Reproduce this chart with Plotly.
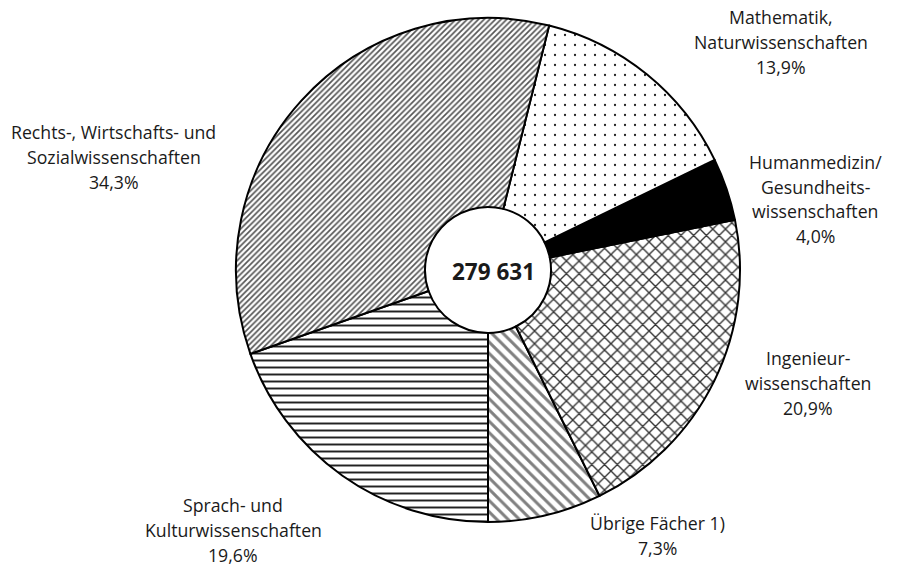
import plotly.graph_objects as go

# ---- data (counter-clockwise from 6 o'clock, first slice ends there) ----
categories = [
    "Sprach- und Kulturwissenschaften",
    "Übrige Fächer 1)",
    "Ingenieurwissenschaften",
    "Humanmedizin/Gesundheitswissenschaften",
    "Mathematik, Naturwissenschaften",
    "Rechts-, Wirtschafts- und Sozialwissenschaften",
]
shares = [19.6, 7.3, 20.9, 4.0, 13.9, 34.3]
label_lines = [
    ["Sprach- und", "Kulturwissenschaften"],
    ["Übrige Fächer 1)"],
    ["Ingenieur-", "wissenschaften"],
    ["Humanmedizin/", "Gesundheits-", "wissenschaften"],
    ["Mathematik,", "Naturwissenschaften"],
    ["Rechts-, Wirtschafts- und", "Sozialwissenschaften"],
]
total_label = "279 631"

# ---- styles ----
W, H = 901, 569
CX, CY, R = 488, 270, 252
shapes_ = ["-", "\\", "x", "", ".", "/"]
sizes_ = [7, 8, 9, 8, 10, 4]
solid_ = [0.28, 0.38, 0.28, 0.5, 0.04, 0.42]
fg_ = ["#222222", "#808080", "#333333", "black", "#222222", "#555555"]
colors_ = ["white", "white", "white", "black", "white", "white"]
# block centre (pixels) for each label
label_pos = [(233, 530), (657, 535), (808, 383), (815, 199), (781, 42), (114, 157)]
LINE_H = 25
FONT = "Open Sans"
FSIZE = 17.7

fig = go.Figure()
fig.add_trace(go.Pie(
    labels=categories,
    values=shares,
    sort=False,
    direction="counterclockwise",
    rotation=180,
    hole=0.25,
    textinfo="none",
    hoverinfo="label+percent",
    marker=dict(
        colors=colors_,
        line=dict(color="black", width=2),
        pattern=dict(shape=shapes_, size=sizes_, solidity=solid_,
                     fgcolor=fg_, bgcolor=colors_, fillmode="replace"),
    ),
    domain=dict(x=[(CX - R) / W, (CX + R) / W], y=[1 - (CY + R) / H, 1 - (CY - R) / H]),
    showlegend=False,
))

annotations = []
for lines, v, (px, py) in zip(label_lines, shares, label_pos):
    all_lines = lines + [f"{v:.1f}".replace(".", ",") + "%"]
    n = len(all_lines)
    for i, t in enumerate(all_lines):
        y = py + (i - (n - 1) / 2) * LINE_H
        annotations.append(dict(
            text=t, x=px / W, y=1 - y / H, xref="paper", yref="paper",
            xanchor="center", yanchor="middle", showarrow=False,
            font=dict(family=FONT, size=FSIZE, color="#1a1a1a"),
        ))
annotations.append(dict(
    text=f"<b>{total_label}</b>", x=(CX + 5) / W, y=1 - (CY + 1) / H, xref="paper", yref="paper",
    xanchor="center", yanchor="middle", showarrow=False,
    font=dict(family=FONT, size=22.5, color="#1a1a1a"),
))

fig.update_layout(
    width=W, height=H,
    margin=dict(l=0, r=0, t=0, b=0),
    paper_bgcolor="white", plot_bgcolor="white",
    annotations=annotations,
)
fig.write_html("out.html", config={"displayModeBar": False},
               post_script="document.body.style.margin='0px';")
